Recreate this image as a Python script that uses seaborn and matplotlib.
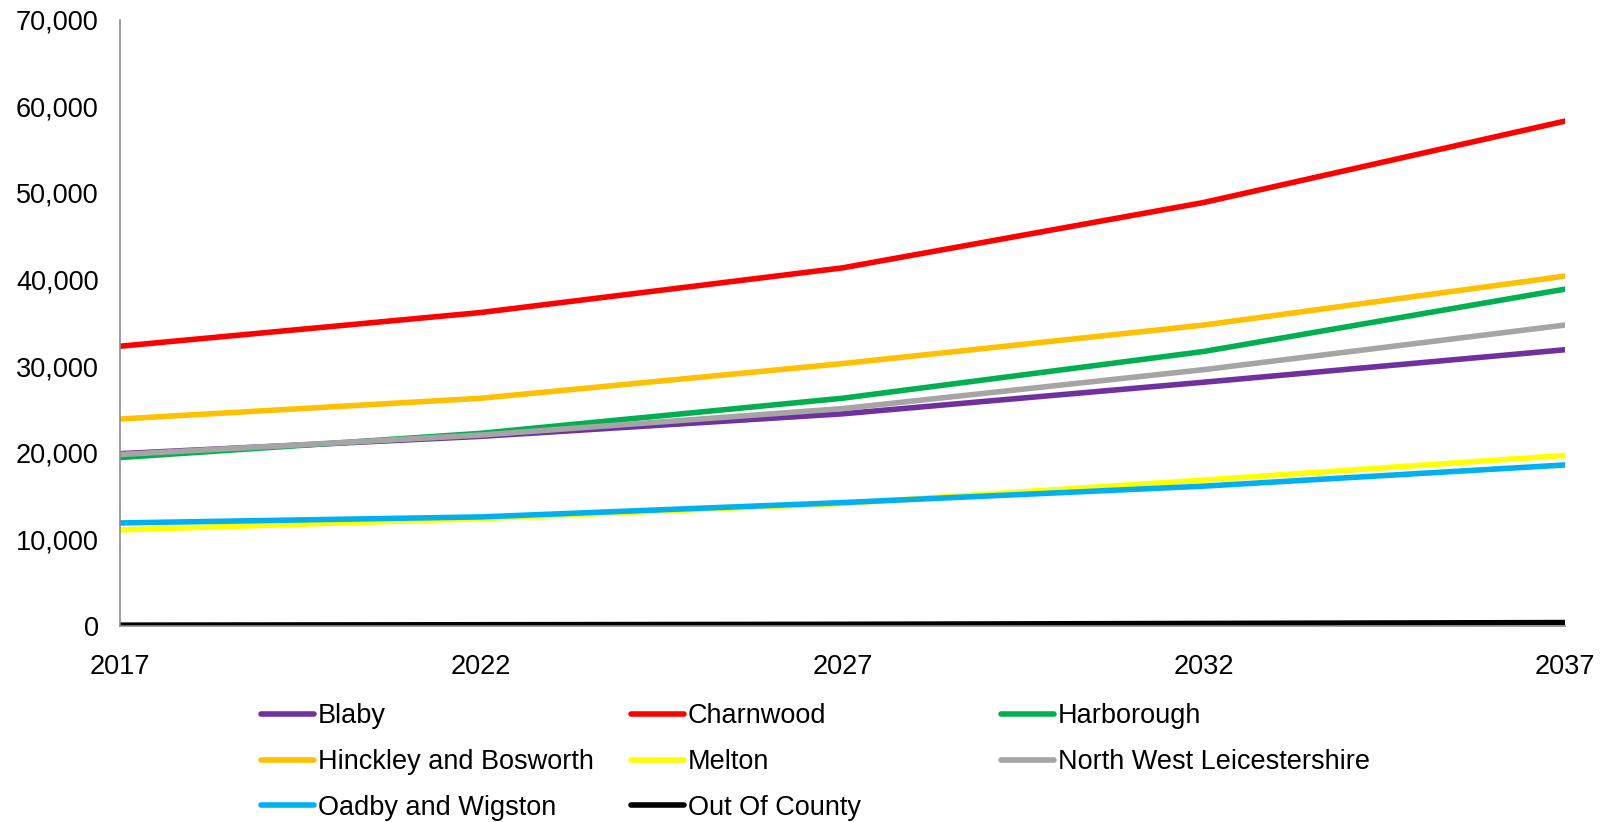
import matplotlib
matplotlib.use("Agg")
import matplotlib.pyplot as plt
from matplotlib.lines import Line2D
from matplotlib.ticker import FuncFormatter
import pandas as pd
import seaborn as sns

years = [2017, 2022, 2027, 2032, 2037]

blaby = [19900, 21900, 24500, 28150, 31900]
charnwood = [32300, 36200, 41350, 48900, 58300]
harborough = [19450, 22250, 26300, 31700, 38900]
hinckley = [23900, 26300, 30300, 34750, 40400]
melton = [11100, 12400, 14150, 16850, 19700]
nw_leics = [19800, 22050, 25100, 29600, 34750]
oadby = [11900, 12600, 14250, 16150, 18600]
out_of_county = [100, 150, 200, 300, 400]

districts = ["Blaby", "Charnwood", "Harborough", "Hinckley and Bosworth",
             "Melton", "North West Leicestershire", "Oadby and Wigston",
             "Out Of County"]
series = [blaby, charnwood, harborough, hinckley, melton, nw_leics, oadby,
          out_of_county]
colors = ["#7030A0", "#FF0000", "#00B050", "#FFC000", "#FFFF00", "#A5A5A5",
          "#00B0F0", "#000000"]
palette = dict(zip(districts, colors))

df = pd.DataFrame(
    [(y, d, v) for d, vals in zip(districts, series) for y, v in zip(years, vals)],
    columns=["year", "district", "value"],
)

sns.set_style("white")
plt.rcParams["font.family"] = ["Liberation Sans", "DejaVu Sans"]
plt.rcParams["text.color"] = "black"

fig = plt.figure(figsize=(16.02, 8.22), dpi=100)
ax = fig.add_axes([0.0747, 0.2384, 0.9023, 0.7376])

sns.lineplot(data=df, x="year", y="value", hue="district", hue_order=districts,
             palette=palette, linewidth=4.0, legend=False, ax=ax,
             solid_capstyle="round")

ax.set_xlim(2017, 2037)
ax.set_ylim(0, 70000)
ax.set_xticks(years)
ax.set_yticks(range(0, 70001, 10000))
ax.yaxis.set_major_formatter(FuncFormatter(lambda v, _: f"{int(v):,}"))
ax.set_xlabel("")
ax.set_ylabel("")
ax.tick_params(axis="both", labelsize=19.5, length=0, colors="black")
ax.tick_params(axis="y", pad=15)
ax.tick_params(axis="x", pad=20)
for side in ("top", "right"):
    ax.spines[side].set_visible(False)
for side in ("left", "bottom"):
    ax.spines[side].set_color("#8C8C8C")
    ax.spines[side].set_linewidth(1.2)
ax.grid(False)

# legend laid out as three equal-width columns
columns = [
    [0, 3, 6],
    [1, 4, 7],
    [2, 5],
]
col_x = [0.163, 0.394, 0.625]
for cx, idxs in zip(col_x, columns):
    handles = [Line2D([], [], color=colors[i], linewidth=4.0,
                      solid_capstyle="round") for i in idxs]
    labels = [districts[i] for i in idxs]
    fig.legend(handles, labels, loc="upper left", bbox_to_anchor=(cx, 0.1445),
               bbox_transform=fig.transFigure, frameon=False, fontsize=19.5,
               handlelength=1.95, handletextpad=0.15, labelspacing=0.73,
               borderaxespad=0, borderpad=0, labelcolor="black")

fig.savefig("out.png", dpi=100, facecolor="white")
